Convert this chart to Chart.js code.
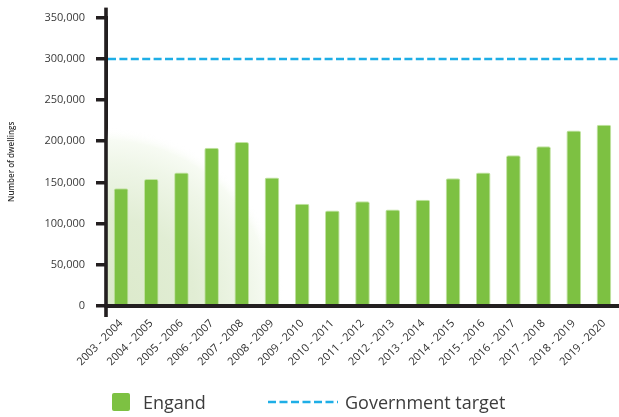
<!DOCTYPE html>
<html>
<head>
<meta charset="utf-8">
<script src="https://cdn.jsdelivr.net/npm/chart.js@4.4.1/dist/chart.umd.min.js"></script>
<style>
  html, body { margin: 0; padding: 0; background: #ffffff; }
  #wrap { position: relative; width: 619px; height: 417px; overflow: hidden; font-family: "Open Sans", sans-serif; }
  #c { position: absolute; left: 0; top: 0; }
  .lg-box { position: absolute; left: 112px; top: 393px; width: 18px; height: 18px; background: #7dc142; border-radius: 2px; }
  .lg-text { position: absolute; font-size: 18px; line-height: 18px; color: #3c3c3c; white-space: nowrap; }
  .lg-line { position: absolute; left: 268px; top: 400px; }
</style>
</head>
<body>
<div id="wrap">
  <canvas id="c" width="619" height="417"></canvas>
  <div class="lg-box"></div>
  <div class="lg-text" style="left:143px; top:393px;">Engand</div>
  <svg class="lg-line" width="70" height="4"><line x1="0" y1="2" x2="70" y2="2" stroke="#1eaee6" stroke-width="2.5" stroke-dasharray="8 3.5"/></svg>
  <div class="lg-text" style="left:345px; top:393px;">Government target</div>
</div>
<script>
const categories = ["2003 - 2004","2004 - 2005","2005 - 2006","2006 - 2007","2007 - 2008","2008 - 2009","2009 - 2010","2010 - 2011","2011 - 2012","2012 - 2013","2013 - 2014","2014 - 2015","2015 - 2016","2016 - 2017","2017 - 2018","2018 - 2019","2019 - 2020"];
const englandValues = [143000,154000,162000,192000,199000,156000,124000,116000,127000,117000,129000,155000,162000,183000,194000,213000,220000];
const governmentTarget = 300000;
const yTickValues = [0,50000,100000,150000,200000,250000,300000,350000];

const axisColor = '#231f20';

const bgGlow = {
  id: 'bgGlow',
  beforeDatasetsDraw(chart) {
    const {ctx, chartArea: a} = chart;
    ctx.save();
    ctx.beginPath();
    ctx.rect(a.left, a.top, a.right - a.left, a.bottom - a.top);
    ctx.clip();
    const cx = a.left, cy = a.bottom;
    const g = ctx.createRadialGradient(cx, cy, 0, cx, cy, 178);
    g.addColorStop(0, 'rgba(219,233,202,1)');
    g.addColorStop(0.5, 'rgba(225,237,212,1)');
    g.addColorStop(0.8, 'rgba(239,246,232,1)');
    g.addColorStop(0.93, 'rgba(247,251,243,1)');
    g.addColorStop(1, 'rgba(255,255,255,0)');
    ctx.fillStyle = g;
    ctx.fillRect(a.left, a.top, a.right - a.left, a.bottom - a.top);
    ctx.restore();
  }
};

const targetLine = {
  id: 'targetLine',
  afterDatasetsDraw(chart) {
    const {ctx, chartArea: a, scales} = chart;
    const y = Math.round(scales.y.getPixelForValue(governmentTarget));
    ctx.save();
    ctx.strokeStyle = '#1eaee6';
    ctx.lineWidth = 2.5;
    ctx.setLineDash([8, 3.4]);
    ctx.beginPath();
    ctx.moveTo(a.left + 2, y);
    ctx.lineTo(chart.width, y);
    ctx.stroke();
    ctx.restore();
  }
};

// heavy axis lines drawn on top of the bars, positioned from the scales
const axisLines = {
  id: 'axisLines',
  afterDraw(chart) {
    const {ctx, chartArea: a, scales} = chart;
    const y0 = scales.y.getPixelForValue(0);
    const yTop = scales.y.getPixelForValue(yTickValues[yTickValues.length - 1]);
    ctx.save();
    ctx.fillStyle = axisColor;
    ctx.fillRect(a.left - 1.5, y0 - 2, chart.width - a.left + 2, 4);
    ctx.fillRect(a.left - 1.8, yTop - 10, 3.6, y0 - yTop + 21);
    ctx.restore();
  }
};

new Chart(document.getElementById('c'), {
  type: 'bar',
  data: {
    labels: categories,
    datasets: [{
      label: 'Engand',
      data: englandValues,
      backgroundColor: '#7dc142',
      borderColor: '#c2e3a2',
      borderWidth: {top: 1, left: 1, right: 1, bottom: 0},
      borderSkipped: false,
      borderRadius: {topLeft: 2, topRight: 2, bottomLeft: 0, bottomRight: 0},
      barPercentage: 0.97,
      categoryPercentage: 0.5
    }]
  },
  options: {
    responsive: false,
    animation: false,
    layout: { padding: { top: 15, right: -2, bottom: 0, left: 0 } },
    plugins: { legend: { display: false }, tooltip: { enabled: false } },
    scales: {
      x: {
        offset: true,
        afterFit(scale) { scale.height = 111; },
        grid: {
          display: true,
          drawOnChartArea: false,
          drawTicks: true,
          tickLength: 11,
          offset: true,
          lineWidth: 1,
          color: 'rgba(0,0,0,0)'
        },
        border: { display: true, color: axisColor, width: 3 },
        ticks: {
          autoSkip: false,
          maxRotation: 45,
          minRotation: 45,
          padding: 0,
          color: '#2e2e2e',
          font: { family: 'Open Sans', size: 11 }
        }
      },
      y: {
        min: 0,
        max: 350000,
        afterFit(scale) { scale.width = 106; },
        afterBuildTicks(scale) { scale.ticks = yTickValues.map(v => ({value: v})); },
        grid: {
          display: true,
          drawOnChartArea: false,
          drawTicks: true,
          tickLength: 10,
          lineWidth: 3.5,
          color: axisColor
        },
        border: { display: true, color: axisColor, width: 3 },
        ticks: {
          padding: 11,
          color: '#3a3a3a',
          font: { family: 'Open Sans', size: 11 },
          callback: (v) => Number(v).toLocaleString('en-US')
        },
        title: {
          display: true,
          text: 'Number of dwellings',
          color: '#333333',
          padding: { top: 7, bottom: 0 },
          font: { family: 'Open Sans', size: 8, weight: '600' }
        }
      }
    }
  },
  plugins: [bgGlow, targetLine, axisLines]
});
</script>
</body>
</html>
